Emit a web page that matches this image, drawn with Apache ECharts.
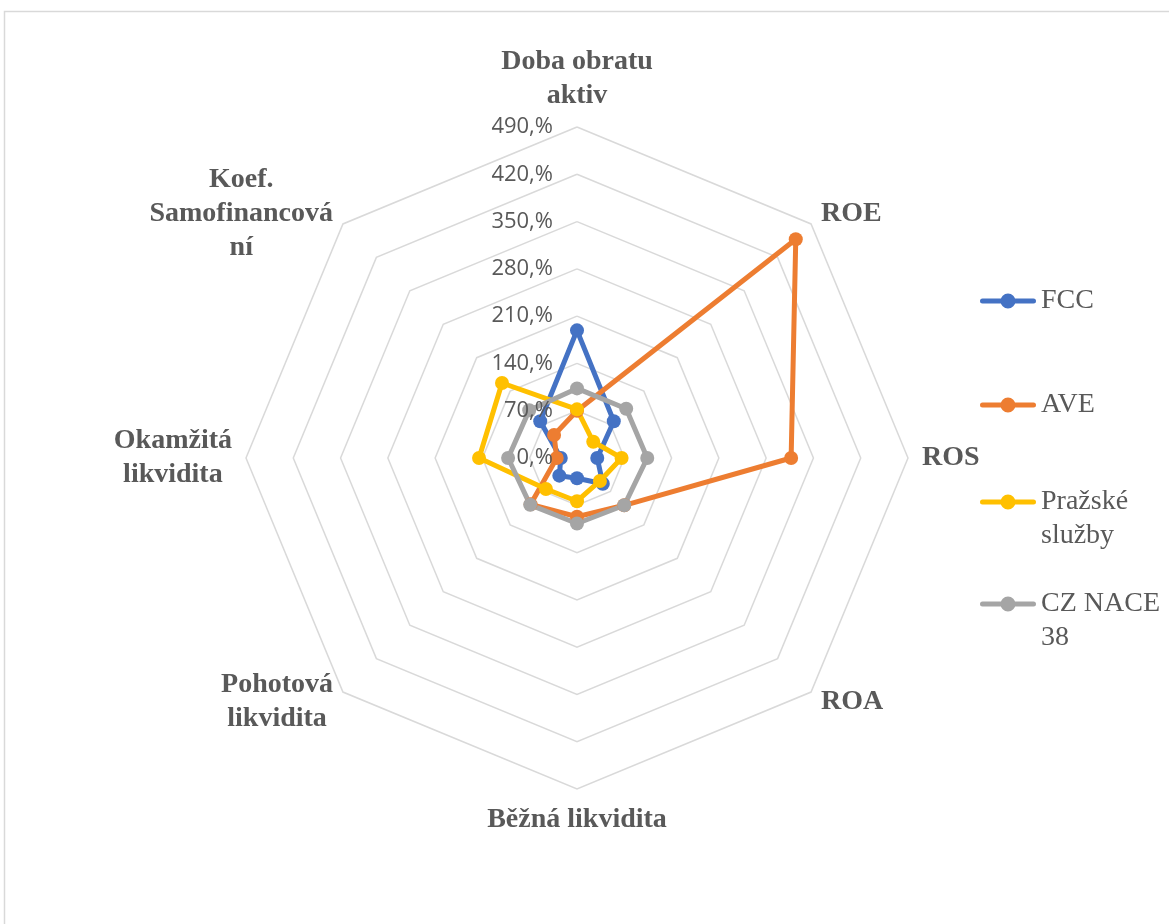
<!DOCTYPE html>
<html>
<head>
<meta charset="utf-8">
<script src="https://cdn.jsdelivr.net/npm/echarts@6/dist/echarts.min.js"></script>
<style>
    html, body { margin: 0; padding: 0; background: #fff; }
    #radar { width: 1169px; height: 924px; }
</style>
</head>
<body>
<div id="radar"></div>
<script>
// indicators clockwise from the top, as in the picture
const indicators = ['Doba obratu\naktiv', 'ROE', 'ROS', 'ROA', 'Běžná likvidita',
    'Pohotová\nlikvidita', 'Okamžitá\nlikvidita', 'Koef.\nSamofinancová\nní'];
const fcc = [189, 77, 30, 54, 30, 37, 24, 77];
const ave = [70, 458, 317, 99, 87, 97, 30, 48];
const prazske = [72, 34, 66, 48, 64, 65, 145, 157];
const czNace = [103, 103, 104, 99, 97, 98, 102, 100];
const tickValues = [0, 70, 140, 210, 280, 350, 420, 490];
const tickLabels = ['0,%', '70,%', '140,%', '210,%', '280,%', '350,%', '420,%', '490,%'];
const seriesNames = ['FCC', 'AVE', 'Pražské služby', 'CZ NACE 38'];
const legendLabels = ['FCC', 'AVE', 'Pražské\nslužby', 'CZ NACE\n38'];
const colors = ['#4472C4', '#ED7D31', '#FFC000', '#A5A5A5'];

// echarts lays radar axes out counter-clockwise, so flip the order
const order = [0, 7, 6, 5, 4, 3, 2, 1];
const reorder = arr => order.map(i => arr[i]);

const serif = 'Liberation Serif, Times New Roman, serif';
const legendTops = [279, 383, 446, 548];
const lineIcon = 'path://M2.5,5 L53.5,5 A2.5,2.5 0 0 1 53.5,10 L2.5,10 A2.5,2.5 0 0 1 2.5,5 Z M28,0 A7.5,7.5 0 1 1 27.99,0 Z';

// legend text: icon sits on the first line, so multi-line names get a blank line above
function legendText(i) {
    let t = legendLabels[i];
    return t.indexOf('\n') >= 0 ? '\u00a0\n' + t : t;
}

const radarBase = {
    center: [577, 458],
    radius: 331,
    startAngle: 90,
    shape: 'polygon',
    splitNumber: 7,
    nameGap: 14,
    axisLine: {show: false},
    axisTick: {show: false},
    splitArea: {show: false}
};

let myChart = echarts.init(document.getElementById('radar'));
let option = {
    animation: false,
    backgroundColor: '#fff',
    graphic: [{
        type: 'rect',
        z: -10,
        shape: {x: 4.5, y: 11.5, width: 1300, height: 1000},
        style: {fill: 'none', stroke: '#d9d9d9', lineWidth: 1.5}
    }],
    legend: seriesNames.map((name, i) => ({
        data: [name],
        orient: 'vertical',
        left: 975,
        top: legendTops[i],
        itemWidth: 56,
        itemHeight: 15,
        icon: lineIcon,
        itemStyle: {color: colors[i], borderWidth: 0},
        formatter: () => legendText(i),
        textStyle: {
            fontFamily: serif,
            fontSize: 28,
            lineHeight: 34,
            color: '#595959'
        },
        selectedMode: false
    })),
    radar: [
        // grid and names, under the series
        Object.assign({}, radarBase, {
            z: 0,
            axisName: {
                formatter: name => name.split('\n').map(l => '{c|' + l + '}').join('\n'),
                rich: {
                    c: {
                        align: 'center',
                        fontFamily: serif,
                        fontWeight: 'bold',
                        fontSize: 28,
                        lineHeight: 34,
                        color: '#595959'
                    }
                }
            },
            splitLine: {lineStyle: {color: '#d9d9d9', width: 1.5}},
            axisLabel: {show: false},
            indicator: reorder(indicators).map(name => ({name: name, min: 0, max: 490}))
        }),
        // tick labels, drawn over the series
        Object.assign({}, radarBase, {
            z: 5,
            axisName: {show: false},
            splitLine: {show: false},
            axisLabel: {
                show: true,
                margin: 24,
                fontFamily: 'Open Sans, Liberation Sans, sans-serif',
                fontSize: 22,
                color: '#595959',
                formatter: v => tickLabels[tickValues.indexOf(Math.round(v))]
            },
            indicator: reorder(indicators).map((name, i) => ({
                name: name,
                min: 0,
                max: 490,
                axisLabel: {show: i === 0}
            }))
        })
    ],
    series: [{
        type: 'radar',
        radarIndex: 0,
        z: 2,
        symbol: 'circle',
        symbolSize: 14,
        data: [fcc, ave, prazske, czNace].map((vals, i) => ({
            name: seriesNames[i],
            value: reorder(vals),
            itemStyle: {color: colors[i]},
            lineStyle: {color: colors[i], width: 5}
        }))
    }]
};
myChart.setOption(option);
window.addEventListener("resize", function () {
    myChart.resize();
});
</script>
</body>
</html>
